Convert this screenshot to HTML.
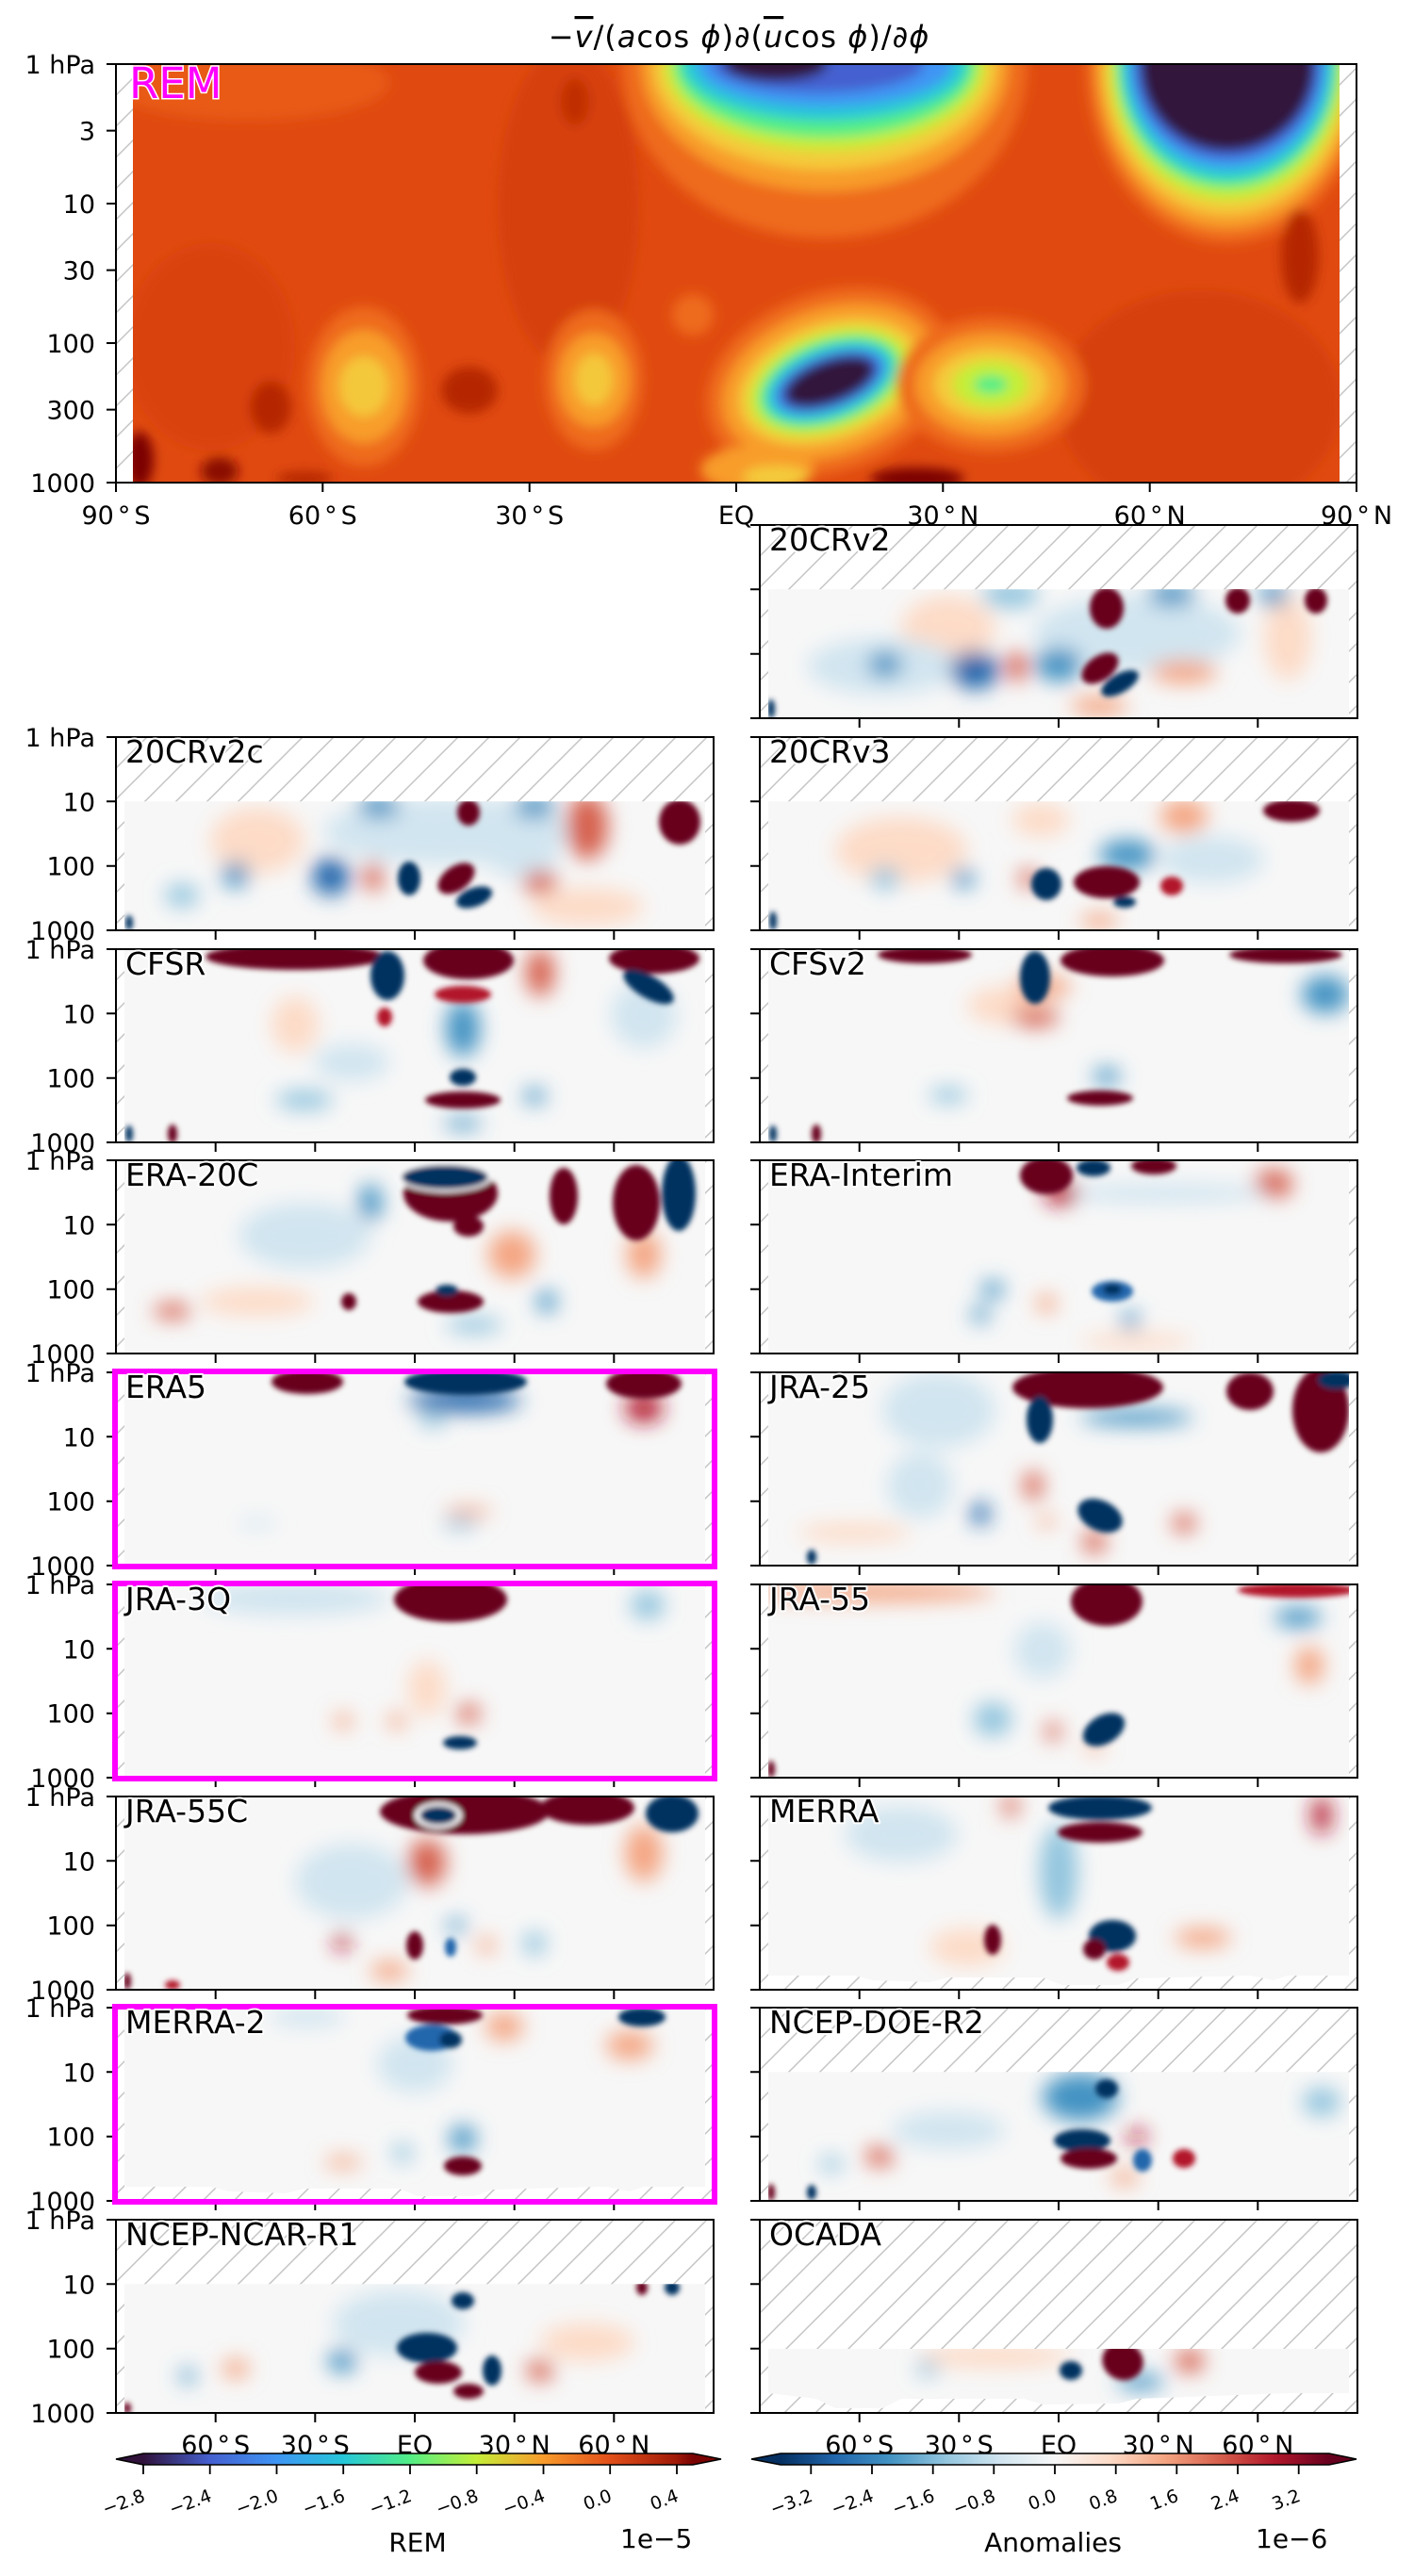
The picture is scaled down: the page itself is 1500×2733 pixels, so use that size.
<!DOCTYPE html>
<html><head><meta charset="utf-8">
<style>
html,body{margin:0;padding:0;background:#fff;}
body{width:1500px;height:2733px;overflow:hidden;}
svg{display:block;font-family:"DejaVu Sans","Liberation Sans",sans-serif;}
.dr{fill:#67001f}.r{fill:#b2182b}.mr{fill:#d6604d}.lr{fill:#f4a582}.pr{fill:#fddbc7}
.db{fill:#053061}.b{fill:#2166ac}.mb{fill:#4393c3}.lb{fill:#92c5de}.pb{fill:#d1e5f0}
.tl{font-size:27px;fill:#000}
.pl{font-size:33px;fill:#000;stroke:#fff;stroke-width:4px;paint-order:stroke;stroke-linejoin:round}
.ct{font-size:19px;fill:#000}
</style></head>
<body>
<svg width="1500" height="2733" viewBox="0 0 1500 2733" xmlns="http://www.w3.org/2000/svg">
<defs>
<pattern id="h" patternUnits="userSpaceOnUse" width="33" height="33"><rect width="33" height="33" fill="#fff"/><path d="M-4,4L4,-4M0,33L33,0M29,37L37,29" stroke="#c4c4c4" stroke-width="1.5"/></pattern>
<filter id="fs" filterUnits="userSpaceOnUse" x="-80" y="-80" width="800" height="370"><feGaussianBlur stdDeviation="11"/></filter>
<filter id="fd" filterUnits="userSpaceOnUse" x="-60" y="-60" width="760" height="330"><feGaussianBlur stdDeviation="2.8"/></filter>
<filter id="fT" filterUnits="userSpaceOnUse" x="-60" y="-60" width="1440" height="570"><feGaussianBlur stdDeviation="6"/></filter>
<clipPath id="cT"><rect x="18" y="0" width="1280" height="444"/></clipPath>
<clipPath id="cF"><rect x="9" y="0" width="616" height="205"/></clipPath>
<clipPath id="c10"><rect x="9" y="68.3" width="616" height="136.7"/></clipPath>
<clipPath id="cM"><polygon points="9,0 625,0 625,190 560,190 545,195 520,190 400,193 380,200 320,200 300,192 200,192 180,197 120,195 100,190 9,190"/></clipPath>
<clipPath id="cO"><polygon points="9,137 625,137 625,184 560,184 400,190 380,195 300,196 280,190 150,190 130,200 80,200 60,190 9,184"/></clipPath>
<linearGradient id="gT" x1="0" y1="0" x2="1" y2="0">
<stop offset="0" stop-color="#30123b"/><stop offset="0.121" stop-color="#4560d0"/><stop offset="0.242" stop-color="#3f95f4"/><stop offset="0.364" stop-color="#26c7d9"/><stop offset="0.485" stop-color="#52ee86"/><stop offset="0.606" stop-color="#c5ee38"/><stop offset="0.727" stop-color="#f89c2c"/><stop offset="0.848" stop-color="#e3501a"/><stop offset="0.97" stop-color="#a01a08"/><stop offset="1" stop-color="#7a0403"/>
</linearGradient>
<linearGradient id="gR" x1="0" y1="0" x2="1" y2="0">
<stop offset="0" stop-color="#053061"/><stop offset="0.1" stop-color="#2166ac"/><stop offset="0.2" stop-color="#4393c3"/><stop offset="0.3" stop-color="#92c5de"/><stop offset="0.4" stop-color="#d1e5f0"/><stop offset="0.5" stop-color="#f7f7f7"/><stop offset="0.6" stop-color="#fddbc7"/><stop offset="0.7" stop-color="#f4a582"/><stop offset="0.8" stop-color="#d6604d"/><stop offset="0.9" stop-color="#b2182b"/><stop offset="1" stop-color="#67001f"/>
</linearGradient>
<g id="tk"><path d="M-10,0H0M-10,68.3H0M-10,136.7H0M-10,205H0M105.7,205v10M211.3,205v10M317,205v10M422.7,205v10M528.3,205v10" stroke="#000" stroke-width="2" fill="none"/></g>
<rect id="fr" width="634" height="205" fill="none" stroke="#000" stroke-width="2"/>
<rect id="bg" width="634" height="205" fill="url(#h)"/>
<rect id="dat" x="0" y="0" width="634" height="205" fill="#f7f7f7"/>
</defs>
<rect width="1500" height="2733" fill="#fff"/>

<!-- Title -->
<text x="784" y="50" text-anchor="middle" font-size="32" letter-spacing="1">−<tspan font-style="italic" text-decoration="overline">v</tspan>/(<tspan font-style="italic">a</tspan>cos <tspan font-style="italic">ϕ</tspan>)∂(<tspan font-style="italic" text-decoration="overline">u</tspan>cos <tspan font-style="italic">ϕ</tspan>)/∂<tspan font-style="italic">ϕ</tspan></text>

<!-- TOP PANEL -->
<g transform="translate(123,68)">
<rect width="1316" height="444" fill="url(#h)"/>
<g clip-path="url(#cT)">
<rect width="1316" height="444" fill="#e04a10"/>
<g filter="url(#fT)">
<ellipse cx="480" cy="150" rx="75" ry="170" fill="#d6400c"/>
<ellipse cx="1150" cy="360" rx="150" ry="120" fill="#d6400c"/>
<ellipse cx="100" cy="300" rx="90" ry="110" fill="#da430d"/>
<ellipse cx="140" cy="20" rx="150" ry="40" fill="#e85a16"/>
<ellipse cx="612" cy="266" rx="22" ry="22" fill="#ee6a1c"/>
<!-- upper bowl -->
<ellipse cx="752" cy="0" rx="215" ry="185" fill="#ee6a1c"/>
<ellipse cx="752" cy="0" rx="195" ry="135" fill="#f89c2c"/>
<ellipse cx="752" cy="0" rx="182" ry="112" fill="#f4cb3a"/>
<ellipse cx="752" cy="0" rx="170" ry="92" fill="#c5ee38"/>
<ellipse cx="752" cy="0" rx="160" ry="78" fill="#52ee86"/>
<ellipse cx="752" cy="0" rx="150" ry="60" fill="#26c7d9"/>
<ellipse cx="752" cy="0" rx="135" ry="45" fill="#3f95f4"/>
<ellipse cx="745" cy="0" rx="112" ry="30" fill="#4560d0"/>
<ellipse cx="700" cy="0" rx="55" ry="18" fill="#30123b"/>
<!-- right U -->
<ellipse cx="1179" cy="0" rx="150" ry="190" fill="#ee6a1c"/>
<ellipse cx="1179" cy="0" rx="140" ry="175" fill="#f89c2c"/>
<ellipse cx="1179" cy="0" rx="132" ry="160" fill="#f4cb3a"/>
<ellipse cx="1179" cy="0" rx="125" ry="145" fill="#c5ee38"/>
<ellipse cx="1179" cy="0" rx="118" ry="132" fill="#52ee86"/>
<ellipse cx="1179" cy="0" rx="112" ry="122" fill="#26c7d9"/>
<ellipse cx="1179" cy="0" rx="105" ry="110" fill="#3f95f4"/>
<ellipse cx="1179" cy="0" rx="98" ry="100" fill="#4560d0"/>
<ellipse cx="1179" cy="0" rx="92" ry="92" fill="#30123b"/>
<!-- lower dark blob -->
<g transform="rotate(-20 757 337)">
<ellipse cx="757" cy="337" rx="135" ry="95" fill="#ee6a1c"/>
<ellipse cx="757" cy="337" rx="118" ry="78" fill="#f89c2c"/>
<ellipse cx="757" cy="337" rx="100" ry="62" fill="#f4cb3a"/>
<ellipse cx="757" cy="337" rx="88" ry="52" fill="#c5ee38"/>
<ellipse cx="757" cy="337" rx="78" ry="44" fill="#52ee86"/>
<ellipse cx="757" cy="337" rx="70" ry="37" fill="#26c7d9"/>
<ellipse cx="757" cy="337" rx="62" ry="30" fill="#3f95f4"/>
<ellipse cx="757" cy="337" rx="56" ry="26" fill="#4560d0"/>
<ellipse cx="757" cy="337" rx="50" ry="22" fill="#30123b"/>
</g>
<!-- green blob -->
<ellipse cx="928" cy="340" rx="100" ry="72" fill="#ee6a1c"/>
<ellipse cx="928" cy="340" rx="80" ry="55" fill="#f89c2c"/>
<ellipse cx="928" cy="340" rx="60" ry="38" fill="#f4cb3a"/>
<ellipse cx="928" cy="340" rx="40" ry="25" fill="#c5ee38"/>
<ellipse cx="928" cy="340" rx="18" ry="10" fill="#52ee86"/>
<!-- yellow blobs -->
<ellipse cx="263" cy="342" rx="60" ry="85" fill="#ee6a1c"/>
<ellipse cx="263" cy="342" rx="45" ry="60" fill="#f89c2c"/>
<ellipse cx="263" cy="342" rx="26" ry="32" fill="#f4c83a"/>
<ellipse cx="507" cy="335" rx="52" ry="75" fill="#ee6a1c"/>
<ellipse cx="507" cy="335" rx="38" ry="50" fill="#f89c2c"/>
<ellipse cx="507" cy="335" rx="20" ry="28" fill="#f4c83a"/>
<!-- dark red spots -->
<ellipse cx="164" cy="364" rx="22" ry="28" fill="#b52505"/>
<ellipse cx="375" cy="346" rx="30" ry="25" fill="#b52505"/>
<ellipse cx="487" cy="40" rx="15" ry="25" fill="#c02d06"/>
<ellipse cx="1256" cy="204" rx="20" ry="50" fill="#b52505"/>
<ellipse cx="25" cy="420" rx="15" ry="30" fill="#7a0403"/>
<ellipse cx="110" cy="432" rx="20" ry="15" fill="#8a0c03"/>
<ellipse cx="850" cy="440" rx="50" ry="12" fill="#7a0403"/>
<ellipse cx="200" cy="440" rx="30" ry="8" fill="#b52505"/>
<ellipse cx="680" cy="430" rx="60" ry="25" fill="#f89c2c"/>
<ellipse cx="700" cy="438" rx="35" ry="12" fill="#f4cb3a"/>
</g>
</g>
<rect width="1316" height="444" fill="none" stroke="#000" stroke-width="2"/>
<path d="M-10,0H0M-10,70.6H0M-10,148H0M-10,218.6H0M-10,296H0M-10,366.6H0M-10,444H0M0,444v10M219.3,444v10M438.7,444v10M658,444v10M877.3,444v10M1096.7,444v10M1316,444v10" stroke="#000" stroke-width="2"/>
<text x="14" y="36" font-size="45" fill="#ff00ff" stroke="#fff" stroke-width="3" paint-order="stroke">REM</text>
</g>
<g class="tl" text-anchor="end">
<text x="101" y="78">1 hPa</text><text x="101" y="148.6">3</text><text x="101" y="226">10</text><text x="101" y="296.6">30</text><text x="101" y="374">100</text><text x="101" y="444.6">300</text><text x="101" y="522">1000</text>
</g>
<g class="tl" text-anchor="middle">
<text x="123" y="556">90<tspan dx="4">°</tspan><tspan dx="4">S</tspan></text>
<text x="342.3" y="556">60<tspan dx="4">°</tspan><tspan dx="4">S</tspan></text>
<text x="561.7" y="556">30<tspan dx="4">°</tspan><tspan dx="4">S</tspan></text>
<text x="781" y="556">EQ</text>
<text x="1000.3" y="556">30<tspan dx="4">°</tspan><tspan dx="4">N</tspan></text>
<text x="1219.7" y="556">60<tspan dx="4">°</tspan><tspan dx="4">N</tspan></text>
<text x="1439" y="556">90<tspan dx="4">°</tspan><tspan dx="4">N</tspan></text>
</g>

<!-- Row 0 right: 20CRv2 -->
<g transform="translate(806,557)">
<use href="#bg"/>
<g clip-path="url(#c10)"><use href="#dat"/>
<g filter="url(#fs)">
<ellipse class="pr" cx="200" cy="110" rx="50" ry="35"/>
<ellipse class="pb" cx="400" cy="115" rx="110" ry="40"/>
<ellipse class="pb" cx="130" cy="150" rx="80" ry="30"/>
<ellipse class="pr" cx="560" cy="120" rx="25" ry="45"/>
<ellipse class="lb" cx="266" cy="74" rx="30" ry="14"/>
<ellipse class="mb" cx="437" cy="74" rx="25" ry="12"/>
<ellipse class="mb" cx="545" cy="74" rx="15" ry="12"/>
<ellipse class="mb" cx="133" cy="148" rx="18" ry="14"/>
<ellipse class="b" cx="228" cy="154" rx="26" ry="20"/>
<ellipse class="mb" cx="317" cy="148" rx="25" ry="18"/>
<ellipse class="mr" cx="273" cy="150" rx="11" ry="16"/>
<ellipse class="lr" cx="450" cy="156" rx="35" ry="12"/>
<ellipse class="lr" cx="360" cy="192" rx="30" ry="10"/>
</g>
<g filter="url(#fd)">
<ellipse class="dr" cx="368" cy="88" rx="18" ry="22"/>
<ellipse class="dr" cx="507" cy="80" rx="13" ry="14"/>
<ellipse class="dr" cx="590" cy="80" rx="12" ry="14"/>
<ellipse class="dr" cx="361" cy="152" rx="22" ry="13" transform="rotate(-35 361 152)"/>
<ellipse class="db" cx="382" cy="168" rx="22" ry="10" transform="rotate(-30 382 168)"/>
<ellipse class="db" cx="12" cy="195" rx="4" ry="10"/>
</g></g>
<use href="#fr"/><use href="#tk"/>
<text class="pl" x="10" y="27">20CRv2</text>
</g>

<!-- Row 1 left: 20CRv2c -->
<g transform="translate(123,782)">
<use href="#bg"/>
<g clip-path="url(#c10)"><use href="#dat"/>
<g filter="url(#fs)">
<ellipse class="pr" cx="150" cy="110" rx="50" ry="35"/>
<ellipse class="pb" cx="350" cy="100" rx="130" ry="35"/>
<ellipse class="pb" cx="430" cy="120" rx="40" ry="30"/>
<ellipse class="mb" cx="279" cy="74" rx="22" ry="12"/>
<ellipse class="mb" cx="444" cy="74" rx="22" ry="12"/>
<ellipse class="mr" cx="500" cy="95" rx="22" ry="35"/>
<ellipse class="mb" cx="127" cy="146" rx="14" ry="14"/>
<ellipse class="lb" cx="70" cy="168" rx="18" ry="12"/>
<ellipse class="b" cx="228" cy="148" rx="20" ry="20"/>
<ellipse class="mr" cx="273" cy="148" rx="10" ry="16"/>
<ellipse class="mr" cx="450" cy="154" rx="18" ry="12"/>
<ellipse class="pr" cx="500" cy="180" rx="60" ry="20"/>
</g>
<g filter="url(#fd)">
<ellipse class="dr" cx="374" cy="80" rx="12" ry="14"/>
<ellipse class="dr" cx="598" cy="90" rx="22" ry="24"/>
<ellipse class="dr" cx="361" cy="150" rx="22" ry="13" transform="rotate(-35 361 150)"/>
<ellipse class="db" cx="380" cy="170" rx="20" ry="10" transform="rotate(-20 380 170)"/>
<ellipse class="db" cx="311" cy="150" rx="12" ry="18"/>
<ellipse class="db" cx="14" cy="197" rx="4" ry="8"/>
</g></g>
<use href="#fr"/><use href="#tk"/>
<text class="pl" x="10" y="27">20CRv2c</text>
</g>

<!-- Row 1 right: 20CRv3 -->
<g transform="translate(806,782)">
<use href="#bg"/>
<g clip-path="url(#c10)"><use href="#dat"/>
<g filter="url(#fs)">
<ellipse class="lr" cx="450" cy="84" rx="25" ry="18"/>
<ellipse class="pr" cx="298" cy="88" rx="30" ry="18"/>
<ellipse class="pb" cx="480" cy="130" rx="55" ry="25"/>
<ellipse class="pr" cx="150" cy="120" rx="70" ry="35"/>
<ellipse class="lb" cx="133" cy="150" rx="15" ry="12"/>
<ellipse class="mb" cx="216" cy="150" rx="12" ry="10"/>
<ellipse class="mr" cx="285" cy="150" rx="10" ry="10"/>
<ellipse class="mb" cx="390" cy="125" rx="30" ry="16"/>
<ellipse class="lr" cx="360" cy="195" rx="20" ry="8"/>
</g>
<g filter="url(#fd)">
<ellipse class="dr" cx="564" cy="78" rx="30" ry="12"/>
<ellipse class="dr" cx="368" cy="154" rx="35" ry="17"/>
<ellipse class="db" cx="304" cy="156" rx="16" ry="17"/>
<ellipse class="r" cx="437" cy="158" rx="12" ry="10"/>
<ellipse class="db" cx="387" cy="175" rx="12" ry="6"/>
<ellipse class="db" cx="14" cy="195" rx="4" ry="10"/>
</g></g>
<use href="#fr"/><use href="#tk"/>
<text class="pl" x="10" y="27">20CRv3</text>
</g>

<!-- Row 2 left: CFSR -->
<g transform="translate(123,1007)">
<use href="#bg"/>
<g clip-path="url(#cF)"><use href="#dat"/>
<g filter="url(#fs)">
<ellipse class="pr" cx="190" cy="80" rx="25" ry="30"/>
<ellipse class="mr" cx="450" cy="25" rx="15" ry="25"/>
<ellipse class="mb" cx="368" cy="84" rx="18" ry="30"/>
<ellipse class="pb" cx="250" cy="120" rx="40" ry="20"/>
<ellipse class="mb" cx="444" cy="156" rx="12" ry="8"/>
<ellipse class="lb" cx="200" cy="160" rx="30" ry="10"/>
<ellipse class="mb" cx="368" cy="185" rx="20" ry="6"/>
<ellipse class="pb" cx="560" cy="70" rx="35" ry="35"/>
</g>
<g filter="url(#fd)">
<ellipse class="dr" cx="190" cy="8" rx="95" ry="14"/>
<ellipse class="dr" cx="374" cy="12" rx="48" ry="20"/>
<ellipse class="dr" cx="571" cy="10" rx="48" ry="16"/>
<ellipse class="db" cx="288" cy="28" rx="18" ry="26"/>
<ellipse class="db" cx="565" cy="40" rx="30" ry="12" transform="rotate(30 565 40)"/>
<ellipse class="r" cx="368" cy="48" rx="30" ry="9"/>
<ellipse class="r" cx="285" cy="72" rx="8" ry="10"/>
<ellipse class="db" cx="368" cy="136" rx="14" ry="9"/>
<ellipse class="dr" cx="368" cy="160" rx="40" ry="9"/>
<ellipse class="db" cx="14" cy="196" rx="4" ry="9"/>
<ellipse class="dr" cx="60" cy="196" rx="5" ry="10"/>
</g></g>
<use href="#fr"/><use href="#tk"/>
<text class="pl" x="10" y="27">CFSR</text>
</g>

<!-- Row 2 right: CFSv2 -->
<g transform="translate(806,1007)">
<use href="#bg"/>
<g clip-path="url(#cF)"><use href="#dat"/>
<g filter="url(#fs)">
<ellipse class="pr" cx="260" cy="60" rx="40" ry="20"/>
<ellipse class="mb" cx="600" cy="48" rx="25" ry="20"/>
<ellipse class="mr" cx="292" cy="72" rx="25" ry="10"/>
<ellipse class="lr" cx="300" cy="40" rx="30" ry="12"/>
<ellipse class="mb" cx="368" cy="135" rx="14" ry="9"/>
<ellipse class="lb" cx="200" cy="155" rx="20" ry="8"/>
</g>
<g filter="url(#fd)">
<ellipse class="dr" cx="175" cy="6" rx="50" ry="9"/>
<ellipse class="dr" cx="374" cy="12" rx="55" ry="17"/>
<ellipse class="dr" cx="558" cy="6" rx="60" ry="9"/>
<ellipse class="db" cx="292" cy="30" rx="16" ry="28"/>
<ellipse class="dr" cx="361" cy="158" rx="35" ry="8"/>
<ellipse class="db" cx="14" cy="196" rx="4" ry="9"/>
<ellipse class="dr" cx="60" cy="196" rx="5" ry="10"/>
</g></g>
<use href="#fr"/><use href="#tk"/>
<text class="pl" x="10" y="27">CFSv2</text>
</g>

<!-- Row 3 left: ERA-20C -->
<g transform="translate(123,1231)">
<use href="#bg"/>
<g clip-path="url(#cF)"><use href="#dat"/>
<g filter="url(#fs)">
<ellipse class="pr" cx="150" cy="150" rx="60" ry="15"/>
<ellipse class="mb" cx="270" cy="45" rx="12" ry="20"/>
<ellipse class="pb" cx="200" cy="80" rx="70" ry="35"/>
<ellipse class="mb" cx="457" cy="150" rx="10" ry="12"/>
<ellipse class="lb" cx="380" cy="175" rx="30" ry="8"/>
<ellipse class="mr" cx="60" cy="160" rx="20" ry="8"/>
<ellipse class="lr" cx="420" cy="100" rx="25" ry="25"/>
<ellipse class="lr" cx="560" cy="100" rx="18" ry="25"/>
</g>
<g filter="url(#fd)">
<ellipse class="dr" cx="355" cy="35" rx="50" ry="30"/>
<ellipse cx="349" cy="18" rx="50" ry="16" fill="#fff"/>
<ellipse class="db" cx="349" cy="18" rx="46" ry="13"/>
<ellipse class="dr" cx="374" cy="70" rx="16" ry="11"/>
<ellipse class="dr" cx="475" cy="38" rx="15" ry="30"/>
<ellipse class="dr" cx="552" cy="45" rx="25" ry="40"/>
<ellipse class="db" cx="597" cy="35" rx="18" ry="40"/>
<ellipse class="dr" cx="355" cy="150" rx="35" ry="12"/>
<ellipse class="db" cx="351" cy="138" rx="12" ry="6"/>
<ellipse class="dr" cx="247" cy="150" rx="8" ry="9"/>
</g></g>
<use href="#fr"/><use href="#tk"/>
<text class="pl" x="10" y="27">ERA-20C</text>
</g>

<!-- Row 3 right: ERA-Interim -->
<g transform="translate(806,1231)">
<use href="#bg"/>
<g clip-path="url(#cF)"><use href="#dat"/>
<g filter="url(#fs)">
<ellipse class="mr" cx="545" cy="25" rx="20" ry="15"/>
<ellipse class="pb" cx="430" cy="35" rx="110" ry="10"/>
<ellipse class="r" cx="320" cy="35" rx="18" ry="12"/>
<ellipse class="mb" cx="247" cy="137" rx="12" ry="9"/>
<ellipse class="mb" cx="234" cy="164" rx="10" ry="8"/>
<ellipse class="lr" cx="304" cy="152" rx="10" ry="10"/>
<ellipse class="mb" cx="393" cy="170" rx="10" ry="9"/>
<ellipse class="pr" cx="400" cy="192" rx="60" ry="8"/>
</g>
<g filter="url(#fd)">
<ellipse class="dr" cx="304" cy="16" rx="28" ry="20"/>
<ellipse class="db" cx="354" cy="8" rx="18" ry="9"/>
<ellipse class="dr" cx="418" cy="6" rx="24" ry="9"/>
<ellipse class="b" cx="374" cy="139" rx="22" ry="11"/>
<ellipse class="db" cx="374" cy="137" rx="10" ry="6"/>
</g></g>
<use href="#fr"/><use href="#tk"/>
<text class="pl" x="10" y="27">ERA-Interim</text>
</g>

<!-- Row 4 left: ERA5 -->
<g transform="translate(123,1456)">
<use href="#bg"/>
<g clip-path="url(#cF)"><use href="#dat"/>
<g filter="url(#fs)">
<ellipse class="b" cx="370" cy="30" rx="60" ry="12"/>
<ellipse class="r" cx="560" cy="38" rx="20" ry="15"/>
<ellipse class="lb" cx="336" cy="50" rx="15" ry="8"/>
<ellipse class="lb" cx="365" cy="160" rx="18" ry="6"/>
<ellipse class="lr" cx="374" cy="148" rx="25" ry="5"/>
<ellipse class="pb" cx="150" cy="160" rx="20" ry="5"/>
</g>
<g filter="url(#fd)">
<ellipse class="dr" cx="203" cy="10" rx="38" ry="13"/>
<ellipse class="db" cx="371" cy="10" rx="65" ry="14"/>
<ellipse class="dr" cx="560" cy="12" rx="40" ry="16"/>
</g></g>
<use href="#tk"/>
<rect x="-1" y="-1" width="636" height="207" fill="none" stroke="#ff00ff" stroke-width="6"/>
<text class="pl" x="10" y="27">ERA5</text>
</g>

<!-- Row 4 right: JRA-25 -->
<g transform="translate(806,1456)">
<use href="#bg"/>
<g clip-path="url(#cF)"><use href="#dat"/>
<g filter="url(#fs)">
<ellipse class="pb" cx="190" cy="40" rx="60" ry="40"/>
<ellipse class="mb" cx="400" cy="48" rx="60" ry="8"/>
<ellipse class="pb" cx="170" cy="120" rx="35" ry="35"/>
<ellipse class="b" cx="234" cy="150" rx="10" ry="12"/>
<ellipse class="mr" cx="450" cy="160" rx="12" ry="10"/>
<ellipse class="lr" cx="304" cy="158" rx="10" ry="6"/>
<ellipse class="mr" cx="355" cy="180" rx="12" ry="12"/>
<ellipse class="pr" cx="100" cy="170" rx="60" ry="10"/>
<ellipse class="mr" cx="290" cy="120" rx="10" ry="15"/>
</g>
<g filter="url(#fd)">
<ellipse class="dr" cx="348" cy="16" rx="80" ry="22"/>
<ellipse class="db" cx="297" cy="50" rx="14" ry="25"/>
<ellipse class="dr" cx="595" cy="40" rx="30" ry="45"/>
<ellipse class="dr" cx="520" cy="20" rx="25" ry="20"/>
<ellipse class="db" cx="612" cy="8" rx="20" ry="10"/>
<ellipse class="db" cx="361" cy="152" rx="25" ry="16" transform="rotate(25 361 152)"/>
<ellipse class="db" cx="55" cy="196" rx="5" ry="8"/>
</g></g>
<use href="#fr"/><use href="#tk"/>
<text class="pl" x="10" y="27">JRA-25</text>
</g>

<!-- Row 5 left: JRA-3Q -->
<g transform="translate(123,1681)">
<use href="#bg"/>
<g clip-path="url(#cF)"><use href="#dat"/>
<g filter="url(#fs)">
<ellipse class="pb" cx="190" cy="15" rx="100" ry="18"/>
<ellipse class="lb" cx="564" cy="22" rx="18" ry="15"/>
<ellipse class="mr" cx="374" cy="137" rx="12" ry="10"/>
<ellipse class="lr" cx="241" cy="145" rx="10" ry="8"/>
<ellipse class="lr" cx="298" cy="145" rx="10" ry="8"/>
<ellipse class="pr" cx="330" cy="110" rx="20" ry="30"/>
</g>
<g filter="url(#fd)">
<ellipse class="dr" cx="355" cy="16" rx="60" ry="24"/>
<ellipse class="db" cx="365" cy="168" rx="18" ry="7"/>
</g></g>
<use href="#tk"/>
<rect x="-1" y="-1" width="636" height="207" fill="none" stroke="#ff00ff" stroke-width="6"/>
<text class="pl" x="10" y="27">JRA-3Q</text>
</g>

<!-- Row 5 right: JRA-55 -->
<g transform="translate(806,1681)">
<use href="#bg"/>
<g clip-path="url(#cF)"><use href="#dat"/>
<g filter="url(#fs)">
<ellipse class="lr" cx="120" cy="8" rx="130" ry="10"/>
<ellipse class="mb" cx="571" cy="35" rx="25" ry="10"/>
<ellipse class="lr" cx="583" cy="86" rx="15" ry="20"/>
<ellipse class="lb" cx="247" cy="143" rx="20" ry="18"/>
<ellipse class="mr" cx="311" cy="156" rx="8" ry="10"/>
<ellipse class="lr" cx="355" cy="172" rx="10" ry="6"/>
<ellipse class="pb" cx="300" cy="70" rx="30" ry="30"/>
</g>
<g filter="url(#fd)">
<ellipse class="dr" cx="368" cy="18" rx="38" ry="26"/>
<ellipse class="r" cx="570" cy="6" rx="63" ry="8"/>
<ellipse class="db" cx="365" cy="154" rx="24" ry="15" transform="rotate(-30 365 154)"/>
<ellipse class="dr" cx="12" cy="196" rx="4" ry="9"/>
</g></g>
<use href="#fr"/><use href="#tk"/>
<text class="pl" x="10" y="27">JRA-55</text>
</g>

<!-- Row 6 left: JRA-55C -->
<g transform="translate(123,1906)">
<use href="#bg"/>
<g clip-path="url(#cF)"><use href="#dat"/>
<g filter="url(#fs)">
<ellipse class="mr" cx="330" cy="70" rx="20" ry="25"/>
<ellipse class="lr" cx="560" cy="60" rx="20" ry="30"/>
<ellipse class="r" cx="240" cy="154" rx="8" ry="10"/>
<ellipse class="mb" cx="361" cy="137" rx="10" ry="7"/>
<ellipse class="lr" cx="393" cy="158" rx="9" ry="9"/>
<ellipse class="lb" cx="444" cy="156" rx="12" ry="12"/>
<ellipse class="pb" cx="250" cy="90" rx="60" ry="40"/>
<ellipse class="lr" cx="290" cy="185" rx="20" ry="10"/>
</g>
<g filter="url(#fd)">
<ellipse class="dr" cx="370" cy="16" rx="90" ry="24"/>
<ellipse class="dr" cx="500" cy="12" rx="50" ry="18"/>
<ellipse cx="342" cy="20" rx="25" ry="14" fill="#fff"/>
<ellipse class="db" cx="342" cy="20" rx="20" ry="10"/>
<ellipse class="db" cx="590" cy="18" rx="28" ry="20"/>
<ellipse class="dr" cx="317" cy="158" rx="9" ry="15"/>
<ellipse class="b" cx="355" cy="160" rx="6" ry="10"/>
<ellipse class="dr" cx="12" cy="196" rx="4" ry="9"/>
<ellipse class="r" cx="60" cy="200" rx="8" ry="5"/>
</g></g>
<use href="#fr"/><use href="#tk"/>
<text class="pl" x="10" y="27">JRA-55C</text>
</g>

<!-- Row 6 right: MERRA -->
<g transform="translate(806,1906)">
<use href="#bg"/>
<g clip-path="url(#cM)"><use href="#dat"/>
<g filter="url(#fs)">
<ellipse class="lb" cx="317" cy="80" rx="20" ry="50"/>
<ellipse class="mr" cx="266" cy="10" rx="8" ry="12"/>
<ellipse class="r" cx="596" cy="20" rx="10" ry="20"/>
<ellipse class="pr" cx="220" cy="160" rx="40" ry="20"/>
<ellipse class="lr" cx="470" cy="150" rx="30" ry="10"/>
<ellipse class="pb" cx="150" cy="40" rx="60" ry="30"/>
</g>
<g filter="url(#fd)">
<ellipse class="db" cx="361" cy="12" rx="55" ry="13"/>
<ellipse class="dr" cx="361" cy="38" rx="45" ry="11"/>
<ellipse class="db" cx="374" cy="148" rx="25" ry="17"/>
<ellipse class="dr" cx="355" cy="162" rx="12" ry="11"/>
<ellipse class="r" cx="380" cy="176" rx="12" ry="9"/>
<ellipse class="dr" cx="247" cy="152" rx="9" ry="16"/>
</g></g>
<use href="#fr"/><use href="#tk"/>
<text class="pl" x="10" y="27">MERRA</text>
</g>

<!-- Row 7 left: MERRA-2 -->
<g transform="translate(123,2130)">
<use href="#bg"/>
<g clip-path="url(#cM)"><use href="#dat"/>
<g filter="url(#fs)">
<ellipse class="lr" cx="412" cy="20" rx="20" ry="15"/>
<ellipse class="pb" cx="203" cy="10" rx="40" ry="10"/>
<ellipse class="lr" cx="545" cy="40" rx="25" ry="15"/>
<ellipse class="mb" cx="368" cy="139" rx="14" ry="14"/>
<ellipse class="lr" cx="241" cy="164" rx="20" ry="6"/>
<ellipse class="lb" cx="304" cy="154" rx="10" ry="10"/>
<ellipse class="pb" cx="317" cy="60" rx="40" ry="30"/>
</g>
<g filter="url(#fd)">
<ellipse class="dr" cx="349" cy="8" rx="40" ry="10"/>
<ellipse class="b" cx="335" cy="32" rx="28" ry="14"/>
<ellipse class="db" cx="355" cy="34" rx="12" ry="9"/>
<ellipse class="db" cx="558" cy="10" rx="25" ry="10"/>
<ellipse class="dr" cx="368" cy="168" rx="20" ry="10"/>
</g></g>
<use href="#tk"/>
<rect x="-1" y="-1" width="636" height="207" fill="none" stroke="#ff00ff" stroke-width="6"/>
<text class="pl" x="10" y="27">MERRA-2</text>
</g>

<!-- Row 7 right: NCEP-DOE-R2 -->
<g transform="translate(806,2130)">
<use href="#bg"/>
<g clip-path="url(#c10)"><use href="#dat"/>
<g filter="url(#fs)">
<ellipse class="mb" cx="340" cy="95" rx="40" ry="25"/>
<ellipse class="r" cx="400" cy="137" rx="10" ry="8"/>
<ellipse class="mr" cx="127" cy="158" rx="15" ry="10"/>
<ellipse class="lb" cx="596" cy="100" rx="20" ry="15"/>
<ellipse class="lb" cx="76" cy="166" rx="12" ry="8"/>
<ellipse class="lr" cx="387" cy="180" rx="15" ry="8"/>
<ellipse class="pb" cx="200" cy="130" rx="60" ry="20"/>
</g>
<g filter="url(#fd)">
<ellipse class="db" cx="368" cy="86" rx="12" ry="10"/>
<ellipse class="db" cx="342" cy="141" rx="30" ry="12"/>
<ellipse class="dr" cx="349" cy="160" rx="30" ry="11"/>
<ellipse class="b" cx="406" cy="162" rx="10" ry="12"/>
<ellipse class="r" cx="450" cy="160" rx="12" ry="10"/>
<ellipse class="dr" cx="12" cy="196" rx="4" ry="9"/>
<ellipse class="db" cx="55" cy="196" rx="5" ry="8"/>
</g></g>
<use href="#fr"/><use href="#tk"/>
<text class="pl" x="10" y="27">NCEP-DOE-R2</text>
</g>

<!-- Row 8 left: NCEP-NCAR-R1 -->
<g transform="translate(123,2355)">
<use href="#bg"/>
<g clip-path="url(#c10)"><use href="#dat"/>
<g filter="url(#fs)">
<ellipse class="mb" cx="298" cy="86" rx="10" ry="8"/>
<ellipse class="pb" cx="300" cy="110" rx="70" ry="35"/>
<ellipse class="mr" cx="450" cy="160" rx="14" ry="11"/>
<ellipse class="lr" cx="127" cy="158" rx="14" ry="10"/>
<ellipse class="mb" cx="76" cy="166" rx="8" ry="8"/>
<ellipse class="pr" cx="500" cy="130" rx="50" ry="20"/>
<ellipse class="mb" cx="240" cy="150" rx="15" ry="12"/>
</g>
<g filter="url(#fd)">
<ellipse class="db" cx="368" cy="86" rx="12" ry="9"/>
<ellipse class="db" cx="330" cy="136" rx="32" ry="16"/>
<ellipse class="db" cx="399" cy="160" rx="10" ry="16"/>
<ellipse class="dr" cx="342" cy="162" rx="25" ry="12"/>
<ellipse class="dr" cx="374" cy="182" rx="16" ry="8"/>
<ellipse class="dr" cx="558" cy="72" rx="6" ry="8"/>
<ellipse class="db" cx="590" cy="72" rx="8" ry="8"/>
<ellipse class="dr" cx="12" cy="200" rx="4" ry="6"/>
</g></g>
<use href="#fr"/><use href="#tk"/>
<text class="pl" x="10" y="27">NCEP-NCAR-R1</text>
</g>

<!-- Row 8 right: OCADA -->
<g transform="translate(806,2355)">
<use href="#bg"/>
<g clip-path="url(#cO)"><use href="#dat"/>
<g filter="url(#fs)">
<ellipse class="mr" cx="456" cy="150" rx="15" ry="12"/>
<ellipse class="lb" cx="178" cy="158" rx="12" ry="8"/>
<ellipse class="mb" cx="404" cy="172" rx="25" ry="8"/>
<ellipse class="pr" cx="250" cy="145" rx="80" ry="12"/>
</g>
<g filter="url(#fd)">
<ellipse class="dr" cx="385" cy="150" rx="22" ry="20" transform="rotate(20 385 150)"/>
<ellipse class="db" cx="330" cy="160" rx="12" ry="10"/>
</g></g>
<use href="#fr"/><use href="#tk"/>
<text class="pl" x="10" y="27">OCADA</text>
</g>

<!-- Left column y tick labels -->
<g class="tl" text-anchor="end">
<text x="101" y="792">1 hPa</text><text x="101" y="860.3">10</text><text x="101" y="928.7">100</text><text x="101" y="997">1000</text>
<text x="101" y="1017">1 hPa</text><text x="101" y="1085.3">10</text><text x="101" y="1153.7">100</text><text x="101" y="1222">1000</text>
<text x="101" y="1241">1 hPa</text><text x="101" y="1309.3">10</text><text x="101" y="1377.7">100</text><text x="101" y="1446">1000</text>
<text x="101" y="1466">1 hPa</text><text x="101" y="1534.3">10</text><text x="101" y="1602.7">100</text><text x="101" y="1671">1000</text>
<text x="101" y="1691">1 hPa</text><text x="101" y="1759.3">10</text><text x="101" y="1827.7">100</text><text x="101" y="1896">1000</text>
<text x="101" y="1916">1 hPa</text><text x="101" y="1984.3">10</text><text x="101" y="2052.7">100</text><text x="101" y="2121">1000</text>
<text x="101" y="2140">1 hPa</text><text x="101" y="2208.3">10</text><text x="101" y="2276.7">100</text><text x="101" y="2345">1000</text>
<text x="101" y="2365">1 hPa</text><text x="101" y="2433.3">10</text><text x="101" y="2501.7">100</text><text x="101" y="2570">1000</text>
</g>

<!-- Bottom x tick labels -->
<g class="tl" text-anchor="middle">
<text x="228.7" y="2603">60<tspan dx="4">°</tspan><tspan dx="4">S</tspan></text>
<text x="334.3" y="2603">30<tspan dx="4">°</tspan><tspan dx="4">S</tspan></text>
<text x="440" y="2603">EQ</text>
<text x="545.7" y="2603">30<tspan dx="4">°</tspan><tspan dx="4">N</tspan></text>
<text x="651.3" y="2603">60<tspan dx="4">°</tspan><tspan dx="4">N</tspan></text>
<text x="911.7" y="2603">60<tspan dx="4">°</tspan><tspan dx="4">S</tspan></text>
<text x="1017.3" y="2603">30<tspan dx="4">°</tspan><tspan dx="4">S</tspan></text>
<text x="1123" y="2603">EQ</text>
<text x="1228.7" y="2603">30<tspan dx="4">°</tspan><tspan dx="4">N</tspan></text>
<text x="1334.3" y="2603">60<tspan dx="4">°</tspan><tspan dx="4">N</tspan></text>
</g>

<!-- Colorbar left (REM) -->
<polygon points="123,2609 152,2603 152,2615" fill="#30123b"/>
<polygon points="735,2603 765,2609 735,2615" fill="#7a0403"/>
<rect x="152" y="2603" width="583" height="12" fill="url(#gT)"/>
<polygon points="123,2609 152,2603 735,2603 765,2609 735,2615 152,2615" fill="none" stroke="#000" stroke-width="1.5"/>
<path d="M152,2615v10M222.7,2615v10M293.5,2615v10M364.2,2615v10M435,2615v10M505.7,2615v10M576.5,2615v10M647.2,2615v10M718,2615v10" stroke="#000" stroke-width="1.8"/>
<g class="ct" text-anchor="end">
<text transform="translate(155,2653) rotate(-20)">−2.8</text>
<text transform="translate(225.7,2653) rotate(-20)">−2.4</text>
<text transform="translate(296.5,2653) rotate(-20)">−2.0</text>
<text transform="translate(367.2,2653) rotate(-20)">−1.6</text>
<text transform="translate(438,2653) rotate(-20)">−1.2</text>
<text transform="translate(508.7,2653) rotate(-20)">−0.8</text>
<text transform="translate(579.5,2653) rotate(-20)">−0.4</text>
<text transform="translate(650.2,2653) rotate(-20)">0.0</text>
<text transform="translate(721,2653) rotate(-20)">0.4</text>
</g>
<text x="443" y="2707" font-size="28" text-anchor="middle">REM</text>
<text x="658" y="2703" font-size="28">1e−5</text>

<!-- Colorbar right (Anomalies) -->
<polygon points="797,2609 828,2603 828,2615" fill="#053061"/>
<polygon points="1410,2603 1439,2609 1410,2615" fill="#67001f"/>
<rect x="828" y="2603" width="582" height="12" fill="url(#gR)"/>
<polygon points="797,2609 828,2603 1410,2603 1439,2609 1410,2615 828,2615" fill="none" stroke="#000" stroke-width="1.5"/>
<path d="M860.3,2615v10M925,2615v10M989.7,2615v10M1054.3,2615v10M1119,2615v10M1183.7,2615v10M1248.3,2615v10M1313,2615v10M1377.7,2615v10" stroke="#000" stroke-width="1.8"/>
<g class="ct" text-anchor="end">
<text transform="translate(863.3,2653) rotate(-20)">−3.2</text>
<text transform="translate(928,2653) rotate(-20)">−2.4</text>
<text transform="translate(992.7,2653) rotate(-20)">−1.6</text>
<text transform="translate(1057.3,2653) rotate(-20)">−0.8</text>
<text transform="translate(1122,2653) rotate(-20)">0.0</text>
<text transform="translate(1186.7,2653) rotate(-20)">0.8</text>
<text transform="translate(1251.3,2653) rotate(-20)">1.6</text>
<text transform="translate(1316,2653) rotate(-20)">2.4</text>
<text transform="translate(1380.7,2653) rotate(-20)">3.2</text>
</g>
<text x="1117" y="2707" font-size="28" text-anchor="middle">Anomalies</text>
<text x="1332" y="2703" font-size="28">1e−6</text>
</svg>
</body></html>
